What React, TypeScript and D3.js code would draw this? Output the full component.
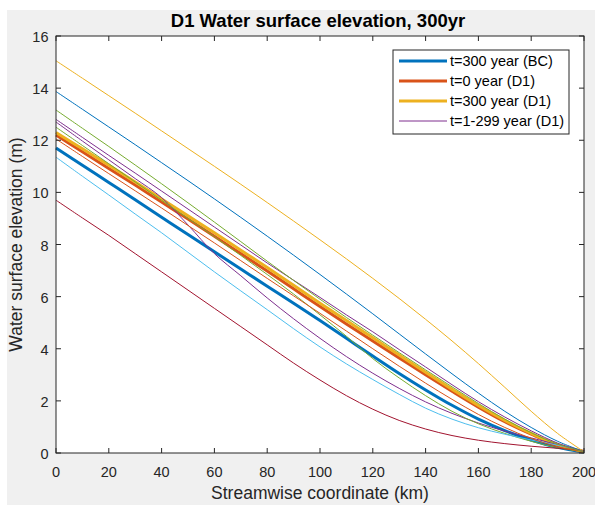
import React, { useRef, useEffect } from 'react';
import * as d3 from 'd3';

// streamwise position of each sample (km)
const streamKm = [0, 10, 20, 30, 40, 50, 60, 70, 80, 90, 100, 110, 120, 130, 140, 150, 160, 170, 180, 190, 200];

// thick profiles
const bcYear300 = [11.7, 11.04, 10.38, 9.72, 9.05, 8.38, 7.72, 7.06, 6.4, 5.75, 5.08, 4.4, 3.72, 3.05, 2.42, 1.83, 1.3, 0.86, 0.5, 0.22, 0.04];
const d1Year0 = [12.2, 11.56, 10.92, 10.28, 9.63, 8.98, 8.32, 7.65, 6.98, 6.3, 5.62, 4.95, 4.3, 3.65, 3.0, 2.37, 1.76, 1.2, 0.72, 0.3, 0.05];
const d1Year300 = [12.3, 11.67, 11.04, 10.4, 9.75, 9.1, 8.45, 7.78, 7.12, 6.44, 5.75, 5.08, 4.42, 3.76, 3.1, 2.45, 1.82, 1.25, 0.75, 0.32, 0.05];

// intermediate years, in plotting order
const midA = [12.7, 11.97, 11.25, 10.53, 9.8, 8.75, 7.65, 6.8, 5.95, 5.15, 4.4, 3.7, 3.06, 2.48, 1.96, 1.52, 1.15, 0.84, 0.58, 0.32, 0.06];
const midB = [12.5, 11.8, 11.1, 10.4, 9.7, 9.0, 8.3, 7.58, 6.85, 6.1, 5.3, 4.48, 3.62, 2.88, 2.2, 1.6, 1.12, 0.75, 0.45, 0.2, 0.05];
const midC = [11.35, 10.62, 9.9, 9.17, 8.45, 7.7, 6.95, 6.22, 5.5, 4.77, 4.07, 3.42, 2.82, 2.25, 1.72, 1.3, 0.97, 0.72, 0.5, 0.3, 0.08];
const midD = [9.7, 9.02, 8.35, 7.65, 6.95, 6.25, 5.55, 4.85, 4.15, 3.45, 2.8, 2.2, 1.68, 1.25, 0.92, 0.67, 0.49, 0.36, 0.26, 0.18, 0.1];
const midE = [13.87, 13.19, 12.51, 11.83, 11.14, 10.45, 9.75, 9.04, 8.32, 7.59, 6.85, 6.1, 5.34, 4.57, 3.8, 3.04, 2.3, 1.6, 0.98, 0.45, 0.05];
const midF = [12.05, 11.38, 10.72, 10.06, 9.4, 8.73, 8.06, 7.38, 6.7, 6.03, 5.36, 4.68, 4.0, 3.33, 2.68, 2.06, 1.48, 0.98, 0.56, 0.24, 0.05];
const midG = [15.05, 14.38, 13.71, 13.04, 12.36, 11.68, 11.0, 10.31, 9.61, 8.9, 8.18, 7.45, 6.7, 5.93, 5.13, 4.3, 3.43, 2.52, 1.6, 0.75, 0.05];
const midH = [12.8, 12.11, 11.42, 10.74, 10.05, 9.36, 8.67, 7.98, 7.29, 6.63, 5.97, 5.3, 4.65, 3.97, 3.3, 2.62, 1.97, 1.38, 0.85, 0.38, 0.05];
const midI = [13.16, 12.46, 11.76, 11.05, 10.33, 9.6, 8.86, 8.11, 7.36, 6.62, 5.9, 5.2, 4.52, 3.85, 3.19, 2.54, 1.9, 1.3, 0.78, 0.34, 0.05];

const xTicks = [0, 20, 40, 60, 80, 100, 120, 140, 160, 180, 200];
const yTicks = [0, 2, 4, 6, 8, 10, 12, 14, 16];
const legendLabels = ['t=300 year (BC)', 't=0 year (D1)', 't=300 year (D1)', 't=1-299 year (D1)'];

const matlabColors = ['#0072BD', '#D95319', '#EDB120', '#7E2F8E', '#77AC30', '#4DBEEE', '#A2142F'];
const FONT = '"Liberation Sans", Arial, Helvetica, sans-serif';
const INK = '#262626';

export default function App() {
  const svgRef = useRef<SVGSVGElement>(null);

  useEffect(() => {
    document.body.style.margin = '0';
    const svg = d3.select(svgRef.current);
    svg.selectAll('*').remove();

    const left = 56, right = 584, top = 36, bottom = 453;

    // figure background
    svg.append('rect').attr('x', 7).attr('y', 10).attr('width', 588).attr('height', 495).attr('fill', '#f0f0f0');
    svg.append('rect').attr('x', left).attr('y', top).attr('width', right - left).attr('height', bottom - top).attr('fill', '#fff');

    const x = d3.scaleLinear().domain([0, 200]).range([left, right]);
    const y = d3.scaleLinear().domain([0, 16]).range([bottom, top]);

    const line = d3.line<number>()
      .x((_, i) => x(streamKm[i]))
      .y(d => y(d))
      .curve(d3.curveCatmullRom.alpha(0.5));

    const series = [
      { values: bcYear300, width: 3 },
      { values: d1Year0, width: 3 },
      { values: d1Year300, width: 3 },
      ...[midA, midB, midC, midD, midE, midF, midG, midH, midI].map(v => ({ values: v, width: 1 })),
    ];

    svg.append('g').selectAll('path')
      .data(series)
      .enter()
      .append('path')
      .attr('d', d => line(d.values))
      .attr('fill', 'none')
      .attr('stroke', (_, i) => matlabColors[i % matlabColors.length])
      .attr('stroke-width', d => d.width)
      .attr('stroke-linejoin', 'round');

    // box + inward ticks
    const axes = svg.append('g').attr('stroke', INK).attr('stroke-width', 1).attr('fill', 'none');
    axes.append('rect').attr('x', left).attr('y', top).attr('width', right - left).attr('height', bottom - top);
    xTicks.forEach(t => {
      axes.append('line').attr('x1', x(t)).attr('x2', x(t)).attr('y1', bottom).attr('y2', bottom - 5);
      axes.append('line').attr('x1', x(t)).attr('x2', x(t)).attr('y1', top).attr('y2', top + 5);
    });
    yTicks.forEach(t => {
      axes.append('line').attr('x1', left).attr('x2', left + 5).attr('y1', y(t)).attr('y2', y(t));
      axes.append('line').attr('x1', right).attr('x2', right - 5).attr('y1', y(t)).attr('y2', y(t));
    });

    const labels = svg.append('g').style('font-family', FONT).attr('fill', INK);
    labels.selectAll('text.xt')
      .data(xTicks)
      .enter()
      .append('text')
      .attr('class', 'xt')
      .attr('x', d => x(d))
      .attr('y', bottom + 23.5)
      .attr('text-anchor', 'middle')
      .style('font-size', '14.5px')
      .text(d => d);
    labels.selectAll('text.yt')
      .data(yTicks)
      .enter()
      .append('text')
      .attr('class', 'yt')
      .attr('x', left - 7.5)
      .attr('y', d => y(d) + 6)
      .attr('text-anchor', 'end')
      .style('font-size', '14.5px')
      .text(d => d);

    labels.append('text')
      .attr('x', (left + right) / 2)
      .attr('y', 499)
      .attr('text-anchor', 'middle')
      .style('font-size', '17.5px')
      .text('Streamwise coordinate (km)');
    labels.append('text')
      .attr('transform', `translate(22, ${(top + bottom) / 2}) rotate(-90)`)
      .attr('text-anchor', 'middle')
      .style('font-size', '17.5px')
      .text('Water surface elevation (m)');
    labels.append('text')
      .attr('x', (left + right) / 2 - 2)
      .attr('y', 27)
      .attr('text-anchor', 'middle')
      .style('font-size', '18.5px')
      .style('font-weight', 'bold')
      .attr('fill', '#000')
      .text('D1 Water surface elevation, 300yr');

    // legend
    const legend = svg.append('g').attr('transform', 'translate(393, 50)');
    legend.append('rect')
      .attr('width', 176).attr('height', 84)
      .attr('fill', '#fff').attr('stroke', INK).attr('stroke-width', 1);
    const items = legend.selectAll('g.item')
      .data(legendLabels)
      .enter()
      .append('g')
      .attr('class', 'item')
      .attr('transform', (_, i) => `translate(0, ${11 + i * 20})`);
    items.append('line')
      .attr('x1', 6).attr('x2', 54)
      .attr('stroke', (_, i) => matlabColors[i])
      .attr('stroke-width', (_, i) => (i < 3 ? 3 : 1));
    items.append('text')
      .attr('x', 57)
      .attr('y', 5)
      .style('font-family', FONT)
      .style('font-size', '14.5px')
      .attr('fill', '#000')
      .text(d => d);
  }, []);

  return <svg ref={svgRef} width={595} height={506} style={{ display: 'block' }}></svg>;
}
